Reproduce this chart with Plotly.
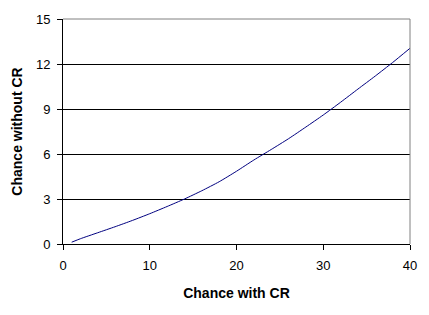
import plotly.graph_objects as go

chance_with_cr = [1, 2, 4, 6, 8, 10, 12, 14, 16, 18, 20, 22, 24, 26, 28, 30, 32, 34, 36, 38, 40]
chance_without_cr = [0.12, 0.35, 0.75, 1.15, 1.57, 2.02, 2.5, 3.0, 3.55, 4.15, 4.85, 5.6, 6.3, 7.02, 7.8, 8.6, 9.45, 10.33, 11.2, 12.1, 13.05]
x_ticks = [0, 10, 20, 30, 40]
y_ticks = [0, 3, 6, 9, 12, 15]

fig = go.Figure()
fig.add_trace(go.Scatter(x=chance_with_cr, y=chance_without_cr, mode="lines",
                         line=dict(color="#000080", width=1, shape="spline", smoothing=0.6),
                         showlegend=False))

font = "Arial, Liberation Sans, sans-serif"
fig.update_layout(
    width=429, height=315,
    margin=dict(l=63, r=17, t=16, b=71),
    paper_bgcolor="white", plot_bgcolor="white",
    font=dict(family=font, color="black", size=12),
    xaxis=dict(range=[0, 40], tickvals=x_ticks, showgrid=False, zeroline=False,
               showline=True, linecolor="black", linewidth=1,
               ticks="outside", ticklen=5, tickcolor="black",
               tickfont=dict(size=13), ticklabelstandoff=4,
               title=dict(text="<b>Chance with CR</b>", font=dict(size=14), standoff=16)),
    yaxis=dict(range=[0, 15], tickvals=y_ticks, showgrid=True, gridcolor="black", gridwidth=1,
               zeroline=False, showline=True, linecolor="black", linewidth=1,
               ticks="outside", ticklen=5, tickcolor="black",
               tickfont=dict(size=13), ticklabelstandoff=4,
               title=dict(text="<b>Chance without CR</b>", font=dict(size=14), standoff=10)),
    shapes=[
        dict(type="line", xref="paper", yref="paper", x0=0, x1=1, y0=1, y1=1,
             line=dict(color="#808080", width=1), layer="above"),
        dict(type="line", xref="paper", yref="paper", x0=1, x1=1, y0=0, y1=1,
             line=dict(color="#808080", width=1), layer="above"),
    ],
)

fig.write_html("out.html")
